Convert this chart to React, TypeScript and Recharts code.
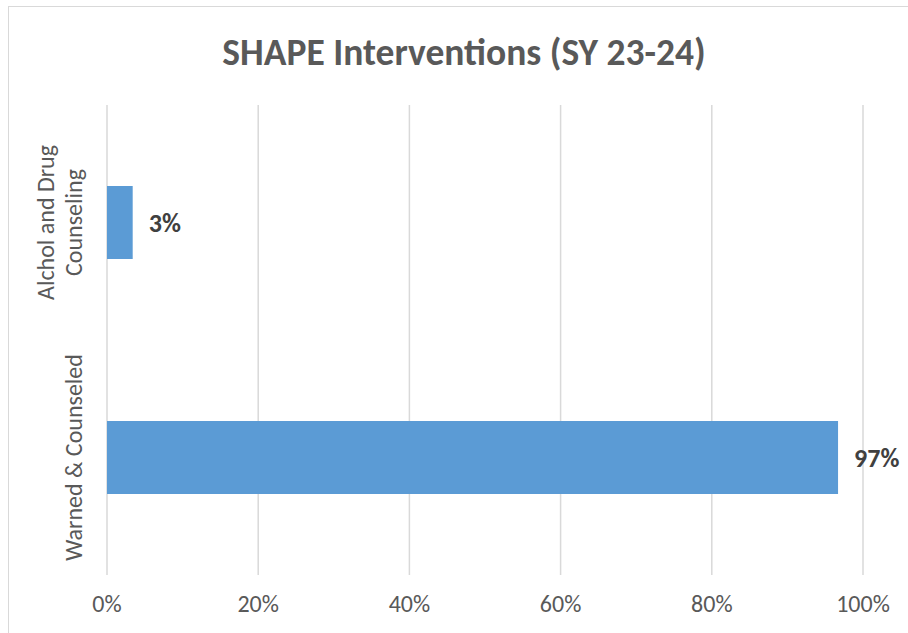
import { BarChart, Bar, XAxis, YAxis, CartesianGrid, LabelList } from 'recharts';

const categories = ['Alchol and Drug Counseling', 'Warned & Counseled'];
const shares = [0.034, 0.967];
const xTicks = [0, 0.2, 0.4, 0.6, 0.8, 1];

const data = categories.map((name, i) => ({ name, value: shares[i] }));

const FONT = "Carlito, Calibri, 'Open Sans', sans-serif";
const pct = (v: number) => `${Math.round(v * 100)}%`;

// Excel-style rotated category label, wrapped onto two lines when long
function CategoryTick({ x, y, payload }: any) {
  const text: string = payload.value;
  const lines = text.length > 20 ? ['Alchol and Drug', 'Counseling'] : [text];
  const baseX = x - 26;
  return (
    <g>
      {lines.map((line, i) => {
        const lx = baseX - (lines.length - 1 - i) * 28;
        return (
          <text
            key={line}
            x={lx}
            y={y}
            transform={`rotate(-90, ${lx}, ${y})`}
            textAnchor="middle"
            dominantBaseline="central"
            fill="#595959"
            fontSize={24}
            fontFamily={FONT}
          >
            {line}
          </text>
        );
      })}
    </g>
  );
}

export default function App() {
  return (
    <div style={{ position: 'absolute', left: 0, top: 0, width: 908, height: 633, overflow: 'hidden', background: '#fff' }}>
      <div style={{ position: 'absolute', left: 8, top: 6, width: 920, height: 650, border: '1px solid #d9d9d9', boxSizing: 'border-box' }} />
      <div
        style={{
          position: 'absolute', left: 8, width: 912, top: 29, textAlign: 'center', lineHeight: '46px',
          fontFamily: FONT, fontWeight: 700, fontSize: 37.5, color: '#595959',
        }}
      >
        SHAPE Interventions (SY 23-24)
      </div>
      <div style={{ position: 'absolute', left: 0, top: 0 }}>
        <BarChart width={908} height={633} data={data} layout="vertical" margin={{ top: 105, right: 45, bottom: 8, left: 0 }}>
          <CartesianGrid horizontal={false} stroke="#d9d9d9" strokeWidth={1.5} />
          <XAxis
            type="number"
            domain={[0, 1]}
            ticks={xTicks}
            tickFormatter={pct}
            axisLine={false}
            tickLine={false}
            height={50}
            tickMargin={14}
            tick={{ fill: '#595959', fontSize: 24, fontFamily: FONT }}
          />
          <YAxis type="category" dataKey="name" width={107} axisLine={false} tickLine={false} tick={<CategoryTick />} />
          <Bar dataKey="value" fill="#5b9bd5" barSize={73} isAnimationActive={false}>
            <LabelList dataKey="value" position="right" offset={16} formatter={pct} fill="#404040" fontSize={26} fontWeight={700} fontFamily={FONT} />
          </Bar>
        </BarChart>
      </div>
    </div>
  );
}
